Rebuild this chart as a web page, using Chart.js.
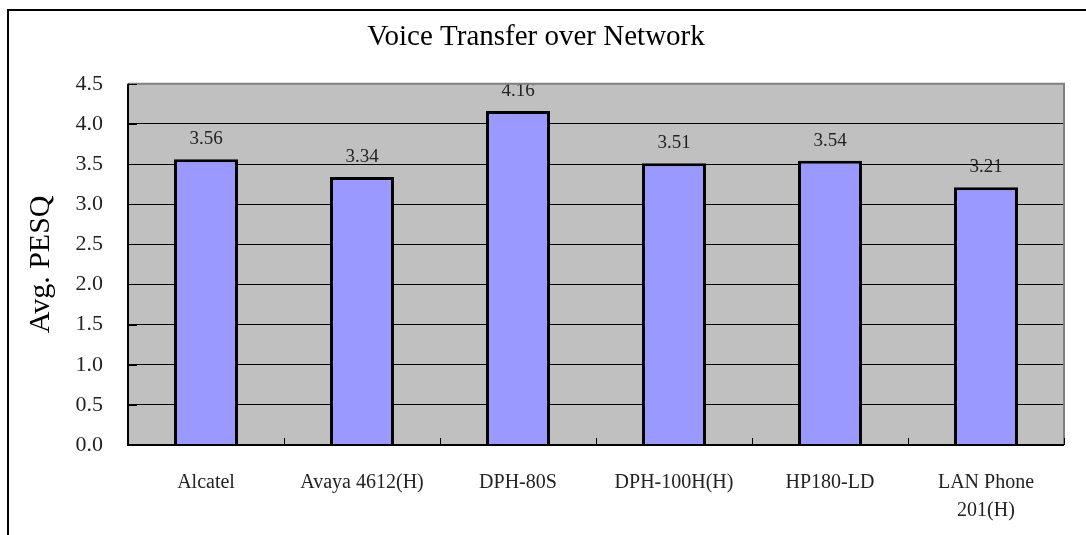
<!DOCTYPE html>
<html>
<head>
<meta charset="utf-8">
<script src="https://cdn.jsdelivr.net/npm/chart.js@4.4.0/dist/chart.umd.min.js"></script>
<style>
    html, body { margin: 0; padding: 0; background: #fff; }
    #wrap { position: relative; width: 1086px; height: 535px; }
    #frame { position: absolute; left: 7px; top: 9px; width: 1090px; height: 540px; border: 2px solid #000; box-sizing: border-box; }
</style>
</head>
<body>
<div id="wrap">
    <div id="frame"></div>
    <canvas id="pesqChart" width="1086" height="535"></canvas>
</div>
<script>
// Chart data
const phones = ['Alcatel', 'Avaya 4612(H)', 'DPH-80S', 'DPH-100H(H)', 'HP180-LD', ['LAN Phone', '201(H)']];
const pesqValues = [3.56, 3.34, 4.16, 3.51, 3.54, 3.21];
const yTicks = [0, 0.5, 1.0, 1.5, 2.0, 2.5, 3.0, 3.5, 4.0, 4.5];

const serif = '"Liberation Serif", "DejaVu Serif", serif';

// Gray plot background + outer borders + inward tick marks
const plotArea = {
    id: 'plotArea',
    beforeDraw(chart) {
        const { ctx, chartArea: a } = chart;
        ctx.save();
        ctx.fillStyle = '#c0c0c0';
        ctx.fillRect(a.left, a.top, a.right - a.left, a.bottom - a.top);
        ctx.restore();
    },
    afterDraw(chart) {
        const { ctx, chartArea: a, scales } = chart;
        ctx.save();
        // top/right border (gray)
        ctx.strokeStyle = '#808080';
        ctx.lineWidth = 2;
        ctx.beginPath();
        ctx.moveTo(a.left, a.top);
        ctx.lineTo(a.right, a.top);
        ctx.lineTo(a.right, a.bottom);
        ctx.stroke();
        // left/bottom axis (black)
        ctx.strokeStyle = '#000';
        ctx.beginPath();
        ctx.moveTo(a.left, a.top);
        ctx.lineTo(a.left, a.bottom);
        ctx.lineTo(a.right, a.bottom);
        ctx.stroke();
        // inward ticks
        ctx.lineWidth = 1;
        yTicks.forEach(v => {
            const y = Math.round(scales.y.getPixelForValue(v)) + 0.5;
            ctx.beginPath();
            ctx.moveTo(a.left, y);
            ctx.lineTo(a.left + 9, y);
            ctx.stroke();
        });
        const step = (a.right - a.left) / phones.length;
        for (let i = 1; i <= phones.length; i++) {
            const x = Math.round(a.left + step * i) + 0.5;
            ctx.beginPath();
            ctx.moveTo(x, a.bottom);
            ctx.lineTo(x, a.bottom - 7);
            ctx.stroke();
        }
        ctx.restore();
    }
};

// Value labels above the bars
const valueLabels = {
    id: 'valueLabels',
    afterDatasetsDraw(chart) {
        const { ctx } = chart;
        const meta = chart.getDatasetMeta(0);
        ctx.save();
        ctx.font = '19px ' + serif;
        ctx.fillStyle = '#222';
        ctx.textAlign = 'center';
        ctx.textBaseline = 'alphabetic';
        meta.data.forEach((bar, i) => {
            ctx.fillText(pesqValues[i].toFixed(2), bar.x, bar.y - 15);
        });
        ctx.restore();
    }
};

const ctx = document.getElementById('pesqChart').getContext('2d');
new Chart(ctx, {
    type: 'bar',
    data: {
        labels: phones,
        datasets: [{
            label: 'Avg. PESQ',
            data: pesqValues,
            backgroundColor: '#9999ff',
            borderColor: '#000',
            borderWidth: 3,
            barPercentage: 0.41,
            categoryPercentage: 1.0
        }]
    },
    options: {
        responsive: false,
        animation: false,
        layout: { padding: { left: 8, right: 22, top: 10, bottom: 0 } },
        scales: {
            x: {
                grid: { display: false },
                border: { display: false },
                ticks: {
                    color: '#222',
                    font: { family: serif, size: 20, lineHeight: 1.4 },
                    padding: 16,
                    maxRotation: 0,
                    autoSkip: false
                },
                afterFit(scale) { scale.height = 90; }
            },
            y: {
                min: 0,
                max: 4.5,
                afterBuildTicks(scale) {
                    scale.ticks = yTicks.map(v => ({ value: v }));
                },
                grid: {
                    color: '#000',
                    lineWidth: 1,
                    drawTicks: false
                },
                border: { display: false },
                ticks: {
                    color: '#222',
                    font: { family: serif, size: 22 },
                    padding: 25,
                    callback: v => v.toFixed(1)
                },
                title: {
                    display: true,
                    text: 'Avg. PESQ',
                    color: '#000',
                    font: { family: serif, size: 30 },
                    padding: { top: 15, bottom: 0 }
                },
                afterFit(scale) { scale.width = 120; }
            }
        },
        plugins: {
            legend: { display: false },
            tooltip: { enabled: false },
            title: {
                display: true,
                text: 'Voice Transfer over Network',
                color: '#000',
                font: { family: serif, size: 29, weight: 'normal' },
                padding: { top: 10, bottom: 29 }
            }
        }
    },
    plugins: [plotArea, valueLabels]
});
</script>
</body>
</html>
